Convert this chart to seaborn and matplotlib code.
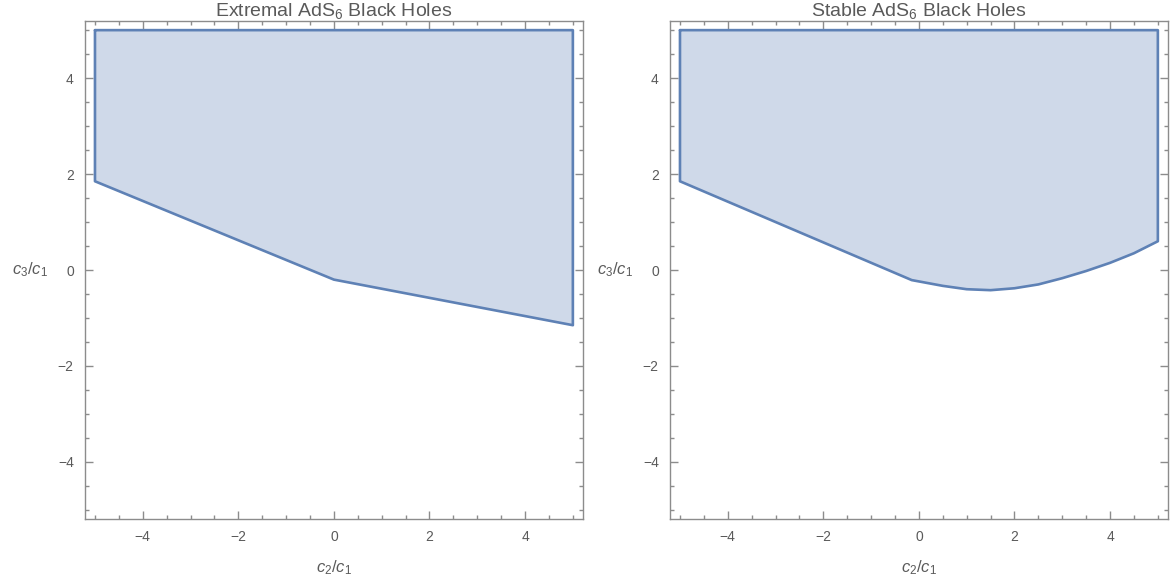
import numpy as np
import pandas as pd
import matplotlib
matplotlib.use("Agg")
import matplotlib.pyplot as plt
from matplotlib.ticker import MultipleLocator
import seaborn as sns

# region boundaries (c2/c1, c3/c1)
extremal_x = [-5, 5, 5, 0, -5, -5]
extremal_y = [5, 5, -1.15, -0.2, 1.85, 5]

stable_x = [-5, 5, 5, 4.5, 4, 3.5, 3, 2.5, 2, 1.5, 1, 0.5, -0.15, -5, -5]
stable_y = [5, 5, 0.6, 0.35, 0.15, -0.02, -0.17, -0.30, -0.38, -0.42, -0.40, -0.33, -0.21, 1.85, 5]

titles = ["Extremal AdS$_6$ Black Holes", "Stable AdS$_6$ Black Holes"]
major_ticks = [-4, -2, 0, 2, 4]

EDGE = "#5e81b5"
FILL = "#cfd9e9"
GRAY = "#5a5a5a"
FRAME = "#8c8c8c"


def draw_region(ax, xs, ys, title):
    df = pd.DataFrame({"x": xs, "y": ys})
    ax.fill(df["x"], df["y"], color=FILL, linewidth=0)
    sns.lineplot(data=df, x="x", y="y", sort=False, estimator=None,
                 color=EDGE, linewidth=1.9, ax=ax)
    ax.set_xlim(-5.21, 5.21)
    ax.set_ylim(-5.19, 5.19)
    ax.set_xticks(major_ticks)
    ax.set_yticks(major_ticks)
    ax.xaxis.set_minor_locator(MultipleLocator(0.5))
    ax.yaxis.set_minor_locator(MultipleLocator(0.5))
    ax.tick_params(which="both", direction="in", top=True, right=True,
                   color=FRAME, labelcolor=GRAY, labelsize=10, width=1.0)
    ax.tick_params(which="major", length=6, pad=8)
    ax.tick_params(which="minor", length=3)
    for sp in ax.spines.values():
        sp.set_color(FRAME)
        sp.set_linewidth(1.0)
    ax.set_title(title, fontsize=14, color=GRAY, pad=2)
    ax.set_xlabel("$c_2/c_1$", fontsize=12, color=GRAY, labelpad=10)
    ax.set_ylabel("$c_3/c_1$", fontsize=12, color=GRAY, rotation=0,
                  labelpad=20, va="center")
    ax.grid(False)


sns.set_style("ticks")
plt.rcParams["font.family"] = ["Liberation Sans", "DejaVu Sans"]
plt.rcParams["mathtext.fontset"] = "custom"
plt.rcParams["mathtext.it"] = "Liberation Sans:italic"
plt.rcParams["mathtext.rm"] = "Liberation Sans"
plt.rcParams["axes.unicode_minus"] = True

fig = plt.figure(figsize=(11.7, 5.86), dpi=100)
ax1 = fig.add_axes([0.0726, 0.1143, 0.4256, 0.8498])
ax2 = fig.add_axes([0.5726, 0.1143, 0.4256, 0.8498])

draw_region(ax1, extremal_x, extremal_y, titles[0])
draw_region(ax2, stable_x, stable_y, titles[1])

fig.savefig("out.png", dpi=100)
